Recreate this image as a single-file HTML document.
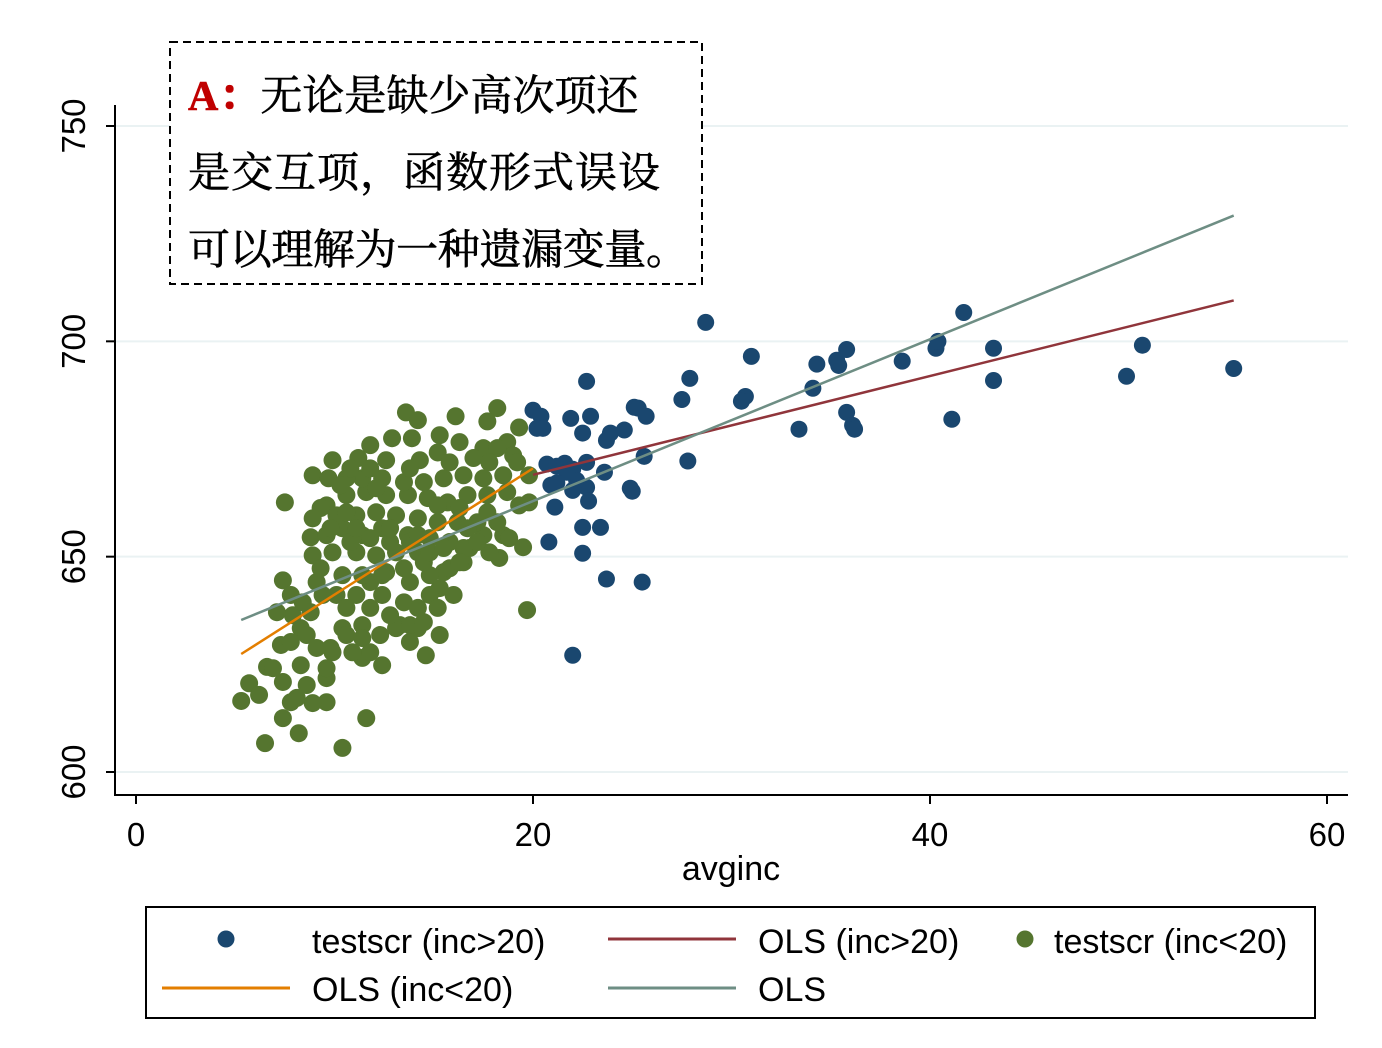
<!DOCTYPE html>
<html><head><meta charset="utf-8">
<style>
html,body{margin:0;padding:0;background:#fff;}
svg{display:block;font-family:"Liberation Sans",sans-serif;}
.cjk{font-family:"Liberation Serif","Noto Serif CJK SC",serif;stroke:#000;stroke-width:0.6;}
</style></head>
<body>
<svg id="chart" width="1382" height="1048" viewBox="0 0 1382 1048">
  <g id="grid"></g>
  <g id="axes"></g>
  <g id="marks"></g>
  <g>
    <rect x="170" y="42" width="532" height="242" fill="#fff" stroke="#000" stroke-width="2" stroke-dasharray="8,5"/>
    <text class="cjk" x="188" y="110" font-size="42"><tspan fill="#c00000" stroke="#c00000" font-weight="bold">A：</tspan>无论是缺少高次项还</text>
    <text class="cjk" x="188" y="187" font-size="42" textLength="472">是交互项，函数形式误设</text>
    <text class="cjk" x="188" y="264" font-size="42" textLength="500">可以理解为一种遗漏变量。</text>
  </g>
  <g>
    <rect x="146" y="907" width="1169" height="111" fill="#fff" stroke="#000" stroke-width="2"/>
    <g>
      <circle cx="226" cy="939" r="8.5" fill="#1a476f"/>
      <text x="312" y="953" font-size="34">testscr (inc&gt;20)</text>
    </g>
    <g>
      <line x1="608" y1="939" x2="736" y2="939" stroke="#90353b" stroke-width="3"/>
      <text x="758" y="953" font-size="34">OLS (inc&gt;20)</text>
    </g>
    <g>
      <circle cx="1025" cy="939" r="8.5" fill="#55752f"/>
      <text x="1054" y="953" font-size="34">testscr (inc&lt;20)</text>
    </g>
    <g>
      <line x1="162" y1="988" x2="290" y2="988" stroke="#e37e00" stroke-width="3"/>
      <text x="312" y="1001" font-size="34">OLS (inc&lt;20)</text>
    </g>
    <g>
      <line x1="608" y1="988" x2="736" y2="988" stroke="#6e8e84" stroke-width="3"/>
      <text x="758" y="1001" font-size="34">OLS</text>
    </g>
  </g>
</svg>
<script>
const xTicks = [0, 20, 40, 60];
const yTicks = [600, 650, 700, 750];
const blueX = [28.7,31.0,34.3,35.3,35.4,35.8,38.6,40.3,40.4,41.7,43.2,43.2,49.9,50.7,55.3,41.1,34.1,30.7,30.5,27.5,27.9,22.7,20.0,20.4,20.2,20.5,21.9,22.9,22.5,23.7,23.9,24.6,25.1,25.3,25.7,33.4,35.8,36.1,36.2,27.8,25.6,23.6,22.7,22.7,22.8,20.7,21.2,21.6,22.0,22.2,22.0,20.9,21.1,22.5,23.4,24.9,25.0,20.8,22.5,23.7,25.5,22.0,21.7,21.2];
const blueY = [704.4,696.5,694.7,695.6,694.4,698.1,695.4,698.4,700.0,706.7,698.4,690.9,691.9,699.1,693.7,681.9,689.1,687.2,686.1,686.5,691.4,690.7,684.0,682.6,679.8,679.8,682.1,682.6,678.7,677.0,678.7,679.4,684.7,684.5,682.6,679.6,683.5,680.5,679.6,672.2,673.3,669.6,671.9,666.1,662.9,671.5,671.0,671.7,670.3,667.7,665.4,666.6,661.5,656.8,656.8,665.9,665.2,653.4,650.8,644.8,644.1,627.1,669.6,667.1];
const greenX = [7.5,13.6,14.2,16.1,18.2,17.7,19.3,19.7,5.3,5.7,6.5,8.2,10.4,11.6,7.4,8.8,7.4,16.0,14.6,15.3,12.4,9.6,8.9,6.2,6.6,7.4,8.1,7.3,9.6,9.9,11.4,8.9,9.7,9.9,11.8,11.2,12.9,13.9,15.3,16.3,17.5,18.7,14.3,12.6,17.0,19.0,19.8,19.8,19.5,18.3,16.5,15.5,15.3,13.5,14.2,13.3,12.3,11.4,10.4,9.8,8.3,7.9,7.1,9.1,10.1,11.1,11.8,12.6,13.8,14.8,14.2,13.1,12.1,11.1,9.9,9.6,10.4,11.4,12.4,13.7,14.8,15.8,16.8,17.5,18.5,18.2,17.2,16.2,15.2,14.2,13.1,12.1,11.1,10.1,9.6,10.6,11.6,12.6,13.7,14.7,15.7,16.7,17.7,18.7,18.5,17.5,16.5,15.5,14.5,13.5,12.4,11.4,10.6,10.6,8.9,9.3,8.4,7.8,7.8,8.3,6.9,8.6,7.8,9.6,10.6,11.4,13.1,13.8,14.5,11.8,10.6,12.4,14.8,15.8,16.5,17.8,18.8,19.3,19.2,18.2,17.8,15.2,15.8,13.8,11.8,10.8,10.3,12.1,9.3,9.8,10.8,11.8,12.8,13.8,14.5,13.5,12.4,11.4,10.4,9.4,8.8,8.6,9.1,10.9,11.8,13.8,12.8,14.2,15.2,16.3,17.2,14.8,15.5,16.7,17.7,16.3,15.2,14.2,12.8,11.1,8.9];
const greenY = [662.6,683.5,681.7,682.6,684.5,681.4,680.0,637.6,616.5,620.6,606.7,609.0,605.6,612.5,612.5,654.5,644.5,641.1,627.1,631.8,624.8,616.2,616.0,617.9,624.4,620.9,617.2,629.5,621.8,627.8,626.5,668.9,668.2,672.4,675.9,672.9,677.5,677.5,678.2,676.6,675.2,676.6,672.4,672.4,672.9,673.5,668.9,662.6,652.2,649.7,648.7,646.4,642.7,639.4,633.4,634.1,631.8,634.1,633.4,628.8,633.4,636.4,637.1,644.1,641.1,641.1,644.1,646.4,644.1,645.7,651.0,651.0,650.3,651.0,651.0,655.0,656.6,655.0,656.6,655.0,654.3,653.4,652.0,655.0,655.0,658.0,658.0,658.0,658.0,658.9,659.6,660.3,659.6,659.6,661.9,664.3,665.0,664.3,664.3,663.6,662.6,664.3,664.3,665.0,668.9,668.2,668.9,668.2,667.3,667.3,668.2,668.2,668.2,660.3,650.3,647.3,639.4,641.1,630.2,624.8,624.1,620.2,616.2,624.1,631.8,631.1,633.4,634.1,634.8,638.1,638.1,641.1,641.1,647.3,652.0,651.0,654.3,661.9,671.9,675.2,671.9,674.2,671.9,670.5,670.5,670.5,666.6,665.9,661.3,656.6,653.4,654.3,653.4,653.4,648.7,647.3,645.7,645.7,645.7,641.1,637.1,631.8,628.8,627.8,627.8,630.2,636.4,638.1,638.1,648.7,653.4,651.0,652.0,656.6,660.3,661.3,661.9,655.0,656.6,656.6,658.9];
const olsAllX = [5.3, 55.3];
const olsAllY = [635.3, 729.2];
const olsHighX = [20.0, 55.3];
const olsHighY = [669.0, 709.5];
const olsLowX = [5.3, 20.0];
const olsLowY = [627.4, 670.5];

const NS = "http://www.w3.org/2000/svg";
const sx = v => 136 + v * (1327 - 136) / 60;
const sy = v => 772 - (v - 600) * (772 - 126) / 150;
function mk(tag, attrs, parent) {
  const e = document.createElementNS(NS, tag);
  for (const k in attrs) e.setAttribute(k, attrs[k]);
  parent.appendChild(e);
  return e;
}
const grid = document.getElementById('grid');
const axes = document.getElementById('axes');
const marks = document.getElementById('marks');

yTicks.forEach(t => {
  const g = mk('line', {x1:115, x2:1348, y1:sy(t), y2:sy(t), stroke:'#eaf2f3', 'stroke-width':2}, grid);
  
  
  const tk = mk('line', {x1:106, x2:115, y1:sy(t), y2:sy(t), stroke:'#000', 'stroke-width':2}, axes);
  
  
  const lb = mk('text', {x:0, y:0, 'font-size':33, 'text-anchor':'middle', transform:'translate(85,' + sy(t) + ') rotate(-90)'}, axes);
  lb.textContent = t;
  
  
});
xTicks.forEach(t => {
  const tk = mk('line', {x1:sx(t), x2:sx(t), y1:795, y2:804, stroke:'#000', 'stroke-width':2}, axes);
  
  
  const lb = mk('text', {x:sx(t), y:846, 'font-size':33, 'text-anchor':'middle'}, axes);
  lb.textContent = t;
  
  
});
const ya = mk('line', {x1:115, x2:115, y1:105, y2:795, stroke:'#000', 'stroke-width':2}, axes);


const xa = mk('line', {x1:114, x2:1348, y1:795, y2:795, stroke:'#000', 'stroke-width':2}, axes);


const xt = mk('text', {x:731, y:880, 'font-size':34, 'text-anchor':'middle'}, axes);
xt.textContent = 'avginc';



greenX.forEach((x, i) => {
  const c = mk('circle', {cx:sx(x), cy:sy(greenY[i]), r:9, fill:'#55752f'}, marks);
  
  
});
blueX.forEach((x, i) => {
  const c = mk('circle', {cx:sx(x), cy:sy(blueY[i]), r:8.5, fill:'#1a476f'}, marks);
  
  
});
const l1 = mk('line', {x1:sx(olsLowX[0]), y1:sy(olsLowY[0]), x2:sx(olsLowX[1]), y2:sy(olsLowY[1]), stroke:'#e37e00', 'stroke-width':2.5}, marks);


const l2 = mk('line', {x1:sx(olsHighX[0]), y1:sy(olsHighY[0]), x2:sx(olsHighX[1]), y2:sy(olsHighY[1]), stroke:'#90353b', 'stroke-width':2.5}, marks);


const l3 = mk('line', {x1:sx(olsAllX[0]), y1:sy(olsAllY[0]), x2:sx(olsAllX[1]), y2:sy(olsAllY[1]), stroke:'#6e8e84', 'stroke-width':2.5}, marks);


</script>
</body></html>
